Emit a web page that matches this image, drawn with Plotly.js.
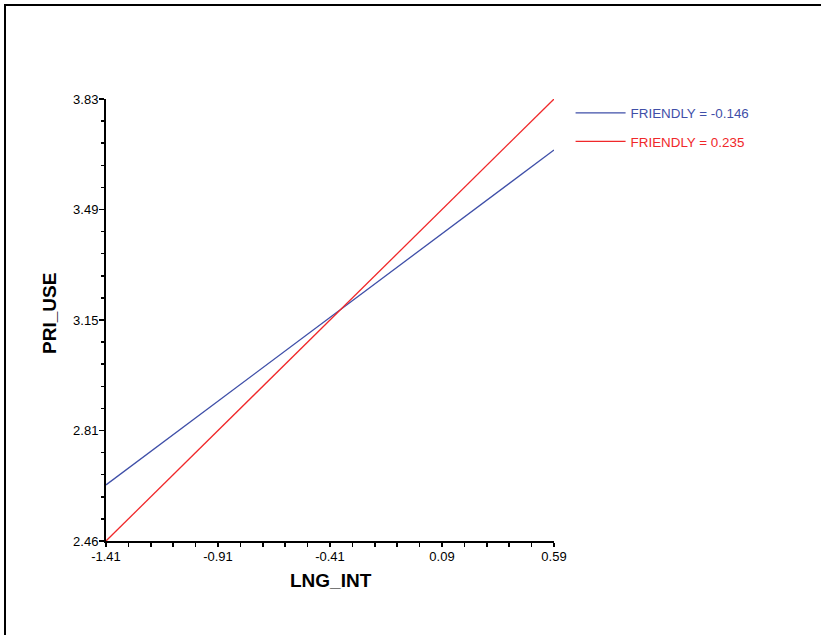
<!DOCTYPE html>
<html>
<head>
<meta charset="utf-8">
<script src="https://cdn.plot.ly/plotly-3.0.1.min.js"></script>
<style>
  html, body { margin: 0; padding: 0; background: #fff; }
  #frame { position: absolute; left: 4px; top: 4px; width: 840px; height: 660px;
           border-top: 2px solid #000; border-left: 2px solid #000; box-sizing: border-box; }
  #chart { position: absolute; left: 0; top: 0; width: 821px; height: 635px; }
</style>
</head>
<body>
<div id="chart"></div>
<div id="frame"></div>
<script>
// Data
const xValues = [-1.41, 0.59];
const seriesNames = ['FRIENDLY = -0.146', 'FRIENDLY = 0.235'];
const seriesColors = ['#3f4fa8', '#f0282a'];
const yLow = [2.634, 3.672];   // FRIENDLY = -0.146
const yHigh = [2.46, 3.83];    // FRIENDLY = 0.235
const xTickVals = [-1.41, -0.91, -0.41, 0.09, 0.59];
const xTickText = ['-1.41', '-0.91', '-0.41', '0.09', '0.59'];
const yTickVals = [2.46, 2.8025, 3.145, 3.4875, 3.83];
const yTickText = ['2.46', '2.81', '3.15', '3.49', '3.83'];
const xTitle = 'LNG_INT';
const yTitle = 'PRI_USE';

const seriesY = [yLow, yHigh];
const traces = seriesY.map((ys, i) => ({
  x: xValues, y: ys, type: 'scatter', mode: 'lines',
  name: '<span style="color:' + seriesColors[i] + '">' + seriesNames[i] + '</span>',
  legendgroup: 'g' + i,
  line: { color: seriesColors[i], width: 1.3 },
  hoverinfo: 'skip'
}));

function minorVals(vals, n) {
  const out = [];
  for (let i = 0; i < vals.length - 1; i++) {
    const step = (vals[i + 1] - vals[i]) / (n + 1);
    for (let k = 1; k <= n; k++) out.push(vals[i] + k * step);
  }
  return out;
}

const font = 'Liberation Sans, Arial, sans-serif';
const layout = {
  width: 821, height: 635,
  margin: { l: 106, r: 267, t: 99, b: 94, pad: 0 },
  paper_bgcolor: '#fff', plot_bgcolor: '#fff',
  font: { family: font, size: 13, color: '#000' },
  showlegend: true,
  legend: { x: 1.037, y: 1.003, xanchor: 'left', yanchor: 'top',
            font: { family: font, size: 13.4 }, bgcolor: 'rgba(0,0,0,0)',
            tracegroupgap: 8, itemwidth: 50 },
  xaxis: {
    range: [-1.41, 0.59], showgrid: false, zeroline: false,
    showline: true, linecolor: '#000', linewidth: 2,
    tickmode: 'array', tickvals: xTickVals, ticktext: xTickText,
    ticks: 'outside', ticklen: 4, tickwidth: 1.5, tickcolor: '#000',
    tickfont: { family: font, size: 13 }, ticklabelstandoff: -2,
    minor: { tickmode: 'array', tickvals: minorVals(xTickVals, 4), ticks: 'outside', ticklen: 4, tickwidth: 1.5, tickcolor: '#000', showgrid: false }
  },
  yaxis: {
    range: [2.46, 3.83], showgrid: false, zeroline: false,
    showline: true, linecolor: '#000', linewidth: 2,
    tickmode: 'array', tickvals: yTickVals, ticktext: yTickText,
    ticks: 'outside', ticklen: 5, tickwidth: 1.5, tickcolor: '#000',
    tickfont: { family: font, size: 13 }, ticklabelstandoff: -2,
    minor: { tickmode: 'array', tickvals: minorVals(yTickVals, 4), ticks: 'outside', ticklen: 3, tickwidth: 1.5, tickcolor: '#000', showgrid: false }
  },
  annotations: [
    { text: '<b>' + xTitle + '</b>', xref: 'paper', yref: 'paper', x: 0.502, y: 0,
      xanchor: 'center', yanchor: 'middle', yshift: -39, showarrow: false,
      font: { family: font, size: 19, color: '#000' } },
    { text: '<b>' + yTitle + '</b>', xref: 'paper', yref: 'paper', x: 0, y: 0.5136,
      xanchor: 'center', yanchor: 'middle', xshift: -56, textangle: -90, showarrow: false,
      font: { family: font, size: 19, color: '#000' } }
  ]
};

Plotly.newPlot('chart', traces, layout, { displayModeBar: false, staticPlot: true });
</script>
</body>
</html>
